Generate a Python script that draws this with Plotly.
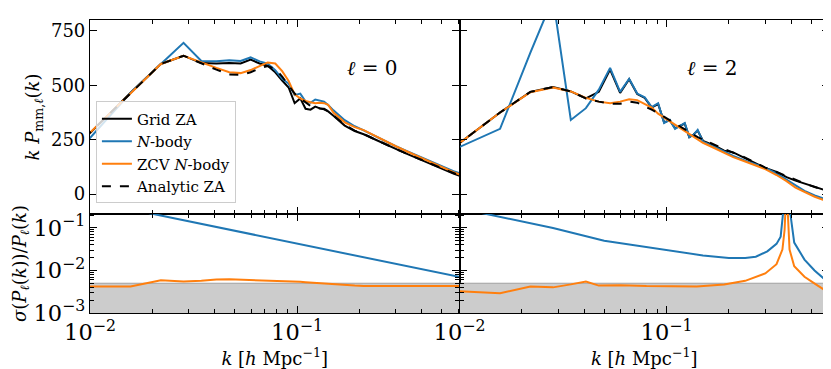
import plotly.graph_objects as go
from plotly.subplots import make_subplots

# k bins shared by the power spectrum curves [h/Mpc]
k_bins = [0.0094, 0.0157, 0.0220, 0.0283, 0.0345, 0.0408, 0.0471, 0.0534, 0.0597, 0.0660,
          0.0722, 0.0785, 0.0848, 0.0911, 0.0974, 0.1037, 0.1100, 0.1162, 0.1225, 0.1288,
          0.1351, 0.1414, 0.15, 0.17, 0.19, 0.21, 0.24, 0.27, 0.30, 0.34,
          0.38, 0.42, 0.47, 0.52, 0.57, 0.62]

# l = 0 : k P_mm,0(k)
grid_l0 = [255, 466, 598, 636, 602, 600, 602, 600, 618, 600,
           590, 560, 522, 490, 418, 440, 392, 388, 402, 394,
           392, 380, 360, 315, 290, 275, 250, 226, 208, 185,
           165, 150, 130, 110, 94, 82]
nbody_l0 = [230, 466, 598, 695, 612, 610, 615, 612, 628, 610,
            600, 570, 530, 508, 455, 462, 425, 420, 435, 428,
            425, 410, 385, 340, 312, 293, 265, 240, 220, 198,
            178, 161, 141, 122, 106, 94]
zcv_l0 = [258, 466, 598, 636, 605, 580, 560, 556, 570, 590,
          605, 600, 565, 520, 458, 440, 428, 422, 418, 420,
          418, 410, 375, 330, 308, 294, 266, 240, 220, 196,
          175, 158, 138, 118, 101, 88]
analytic_l0 = [258, 466, 598, 636, 600, 572, 550, 548, 560, 578,
               588, 575, 540, 500, 462, 440, 420, 405, 398, 394,
               390, 380, 362, 318, 292, 276, 250, 226, 208, 185,
               166, 150, 130, 111, 95, 83]

# l = 2 : k P_mm,2(k)
grid_l2 = [215, 375, 470, 492, 472, 440, 470, 572, 465, 528,
           460, 442, 398, 414, 330, 340, 303, 315, 324, 262,
           274, 292, 245, 224, 200, 192, 165, 142, 120, 102,
           78, 62, 46, 33, 21, 10]
nbody_l2 = [205, 300, 650, 900, 341, 395, 480, 580, 470, 530,
            462, 445, 400, 418, 327, 341, 300, 315, 327, 262,
            272, 295, 241, 218, 195, 176, 154, 138, 121, 95,
            67, 38, 12, -6, -20, -30]
zcv_l2 = [215, 375, 468, 490, 472, 442, 425, 418, 425, 436,
          432, 415, 398, 370, 352, 336, 320, 305, 290, 278,
          266, 250, 236, 212, 188, 170, 150, 133, 115, 88,
          60, 30, 6, -12, -26, -36]
analytic_l2 = [215, 375, 470, 492, 472, 440, 425, 415, 415, 425,
               420, 405, 388, 372, 355, 340, 325, 310, 296, 284,
               272, 262, 250, 228, 205, 190, 168, 145, 122, 102,
               82, 64, 47, 33, 21, 10]

# relative errors sigma(P_l)/P_l
sig_k_nbody0 = [0.0094, 0.0157, 0.0220, 0.0283, 0.05, 0.1, 0.2, 0.4, 0.62]
sig_nbody0 = [0.455, 0.273, 0.195, 0.151, 0.086, 0.043, 0.0215, 0.0108, 0.0069]
sig_zcv0 = [0.0042, 0.0042, 0.0059, 0.0055, 0.0057, 0.0061, 0.0062, 0.0061, 0.0059, 0.0058,
            0.0057, 0.0056, 0.0056, 0.0055, 0.0055, 0.0054, 0.0053, 0.0052, 0.0050, 0.0049,
            0.0048, 0.0047, 0.0046, 0.0045, 0.0044, 0.0043, 0.0043, 0.0043, 0.0043, 0.0043,
            0.0043, 0.0043, 0.0043, 0.0043, 0.0043, 0.0043]

sig_k_nbody2 = [0.0094, 0.0157, 0.0283, 0.05, 0.1, 0.15, 0.2, 0.24, 0.27, 0.307,
                0.34, 0.356, 0.372, 0.38, 0.393, 0.414, 0.464, 0.519, 0.62]
sig_nbody2 = [0.306, 0.183, 0.099, 0.050, 0.031, 0.0225, 0.0195, 0.0195, 0.021, 0.028,
              0.042, 0.062, 0.5, 1.0, 0.3, 0.045, 0.018, 0.010, 0.0047]
sig_k_zcv2 = [0.0094, 0.0157, 0.0220, 0.0283, 0.0345, 0.0408, 0.0471, 0.06, 0.08, 0.10,
              0.14, 0.19, 0.24, 0.30, 0.34, 0.363, 0.372, 0.38, 0.388, 0.393,
              0.414, 0.464, 0.52, 0.62]
sig_zcv2 = [0.0033, 0.0029, 0.0042, 0.0040, 0.0047, 0.0055, 0.0044, 0.0045, 0.0043, 0.0042,
            0.0042, 0.0047, 0.0057, 0.0085, 0.014, 0.031, 0.09, 1.0, 0.09, 0.031,
            0.0125, 0.0071, 0.0049, 0.0028]

# shaded band
band_k = [0.005, 1.0]
band_lo = 1e-3
band_hi = 5e-3

BLUE = '#1f77b4'
ORANGE = '#ff7f0e'
FONT = 'DejaVu Serif'

fig = make_subplots(rows=2, cols=2, shared_xaxes=True, shared_yaxes=True,
                    horizontal_spacing=0, vertical_spacing=0,
                    row_heights=[0.662, 0.338])


def add_top(col, grid, nbody, zcv, analytic, show):
    fig.add_trace(go.Scatter(x=k_bins, y=grid, mode='lines', name='Grid ZA', legendgroup='a',
                             line=dict(color='black', width=2), showlegend=show), row=1, col=col)
    fig.add_trace(go.Scatter(x=k_bins, y=nbody, mode='lines', name='<i>N</i>-body', legendgroup='b',
                             line=dict(color=BLUE, width=2), showlegend=show), row=1, col=col)
    fig.add_trace(go.Scatter(x=k_bins, y=zcv, mode='lines', name='ZCV <i>N</i>-body', legendgroup='c',
                             line=dict(color=ORANGE, width=2), showlegend=show), row=1, col=col)
    fig.add_trace(go.Scatter(x=k_bins, y=analytic, mode='lines', name='Analytic ZA', legendgroup='d',
                             line=dict(color='black', width=2, dash='dash'), showlegend=show),
                  row=1, col=col)


def add_bottom(col, kn, sn, kz, sz):
    fig.add_trace(go.Scatter(x=band_k, y=[band_lo] * 2, mode='lines', line=dict(width=0),
                             showlegend=False, hoverinfo='skip'), row=2, col=col)
    fig.add_trace(go.Scatter(x=band_k, y=[band_hi] * 2, mode='lines', fill='tonexty',
                             fillcolor='#cccccc', line=dict(color='#a0a0a0', width=1),
                             showlegend=False, hoverinfo='skip'), row=2, col=col)
    fig.add_trace(go.Scatter(x=kn, y=sn, mode='lines', line=dict(color=BLUE, width=2),
                             showlegend=False), row=2, col=col)
    fig.add_trace(go.Scatter(x=kz, y=sz, mode='lines', line=dict(color=ORANGE, width=2),
                             showlegend=False), row=2, col=col)


add_top(1, grid_l0, nbody_l0, zcv_l0, analytic_l0, True)
add_top(2, grid_l2, nbody_l2, zcv_l2, analytic_l2, False)
add_bottom(1, sig_k_nbody0, sig_nbody0, k_bins, sig_zcv0)
add_bottom(2, sig_k_nbody2, sig_nbody2, sig_k_zcv2, sig_zcv2)

tick_font = dict(family=FONT, size=18, color='black')
fig.update_xaxes(type='log', range=[-2, -0.215], dtick=1, exponentformat='power',
                 showline=True, linecolor='black', linewidth=1.2, mirror='ticks',
                 ticks='inside', ticklen=7, tickwidth=1, tickcolor='black',
                 minor=dict(ticks='inside', ticklen=4, tickwidth=1, tickcolor='black'),
                 showgrid=False, zeroline=False, tickfont=tick_font)
fig.update_yaxes(showline=True, linecolor='black', linewidth=1.2, mirror='ticks',
                 ticks='inside', ticklen=7, tickwidth=1, tickcolor='black',
                 showgrid=False, zeroline=False, tickfont=tick_font)
fig.update_yaxes(range=[-91, 800], tickvals=[0, 250, 500, 750], row=1)
fig.update_yaxes(type='log', range=[-3, -0.674], dtick=1, exponentformat='power',
                 minor=dict(ticks='inside', ticklen=4, tickwidth=1, tickcolor='black'),
                 row=2)

title_font = dict(family=FONT, size=18, color='black')
fig.update_yaxes(title_text='<i>k P</i><sub>mm,<i>ℓ</i></sub>(<i>k</i>)', title_font=title_font,
                 title_standoff=6, row=1, col=1)
fig.update_yaxes(title_text='<i>σ</i>(<i>P<sub>ℓ</sub></i>(<i>k</i>))/<i>P<sub>ℓ</sub></i>(<i>k</i>)',
                 title_font=title_font, title_standoff=2, row=2, col=1)
for c in (1, 2):
    fig.update_xaxes(title_text='<i>k</i> [<i>h</i> Mpc<sup>−1</sup>]', title_font=title_font,
                     title_standoff=0, row=2, col=c)

fig.add_annotation(text='<i>ℓ</i> = 0', xref='paper', yref='paper', x=0.382, y=0.885,
                   showarrow=False, font=dict(family=FONT, size=20, color='black'))
fig.add_annotation(text='<i>ℓ</i> = 2', xref='paper', yref='paper', x=0.880, y=0.885,
                   showarrow=False, font=dict(family=FONT, size=20, color='black'))

fig.update_layout(
    width=831, height=369,
    margin=dict(l=82, r=9, t=9, b=64),
    plot_bgcolor='white', paper_bgcolor='white',
    font=dict(family=FONT, size=16, color='black'),
    legend=dict(x=0.008, y=0.722, xanchor='left', yanchor='top', traceorder='normal',
                tracegroupgap=3,
                bgcolor='rgba(255,255,255,0.8)', bordercolor='#cccccc', borderwidth=1,
                font=dict(family=FONT, size=15, color='black')),
)

fig.write_html('out.html')
